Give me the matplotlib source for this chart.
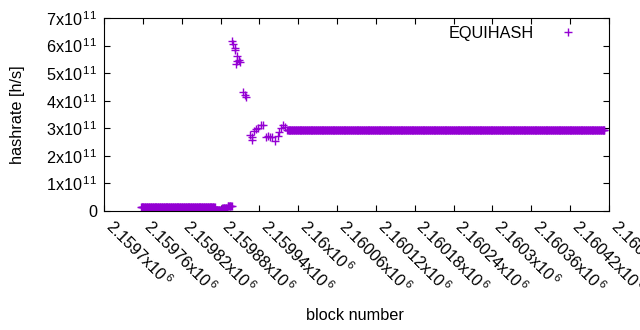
import numpy as np
import matplotlib
matplotlib.use("Agg")
import matplotlib.pyplot as plt

plt.rcParams["font.family"] = ["Liberation Sans", "DejaVu Sans"]
plt.rcParams["mathtext.fontset"] = "custom"
plt.rcParams["mathtext.rm"] = "Liberation Sans"
plt.rcParams["mathtext.it"] = "Liberation Sans"

FS = 11.7

# flat runs: (first block, last block, hashrate)
run_start = [2159757, 2159872, 2159883, 2159891, 2159983]
run_end = [2159871, 2159882, 2159890, 2159897, 2160473]
run_value = [1.35e10, 0.45e10, 1.0e10, 1.8e10, 2.93e11]

# individual points in the transition zone
pt_block = [2159898, 2159899, 2159902, 2159903, 2159904, 2159905, 2159906, 2159908,
            2159910, 2159914, 2159918, 2159920, 2159926, 2159928, 2159929, 2159932,
            2159934, 2159938, 2159943, 2159946, 2159950, 2159953, 2159956, 2159960,
            2159964, 2159969, 2159971, 2159973, 2159977, 2159980]
pt_value = [6.17e11, 6.06e11, 5.93e11, 5.84e11, 5.33e11, 5.62e11, 5.44e11, 5.48e11,
            5.42e11, 4.32e11, 4.21e11, 4.13e11, 2.76e11, 2.58e11, 2.68e11, 2.90e11,
            2.97e11, 3.00e11, 3.12e11, 3.12e11, 2.68e11, 2.72e11, 2.68e11, 2.68e11,
            2.54e11, 2.72e11, 2.87e11, 3.00e11, 3.12e11, 3.05e11]

xticks = [2159700 + 60 * i for i in range(14)]
xtick_labels = ["2.1597", "2.15976", "2.15982", "2.15988", "2.15994", "2.16", "2.16006",
                "2.16012", "2.16018", "2.16024", "2.1603", "2.16036", "2.16042", "2.16048"]
yticks = [0, 1e11, 2e11, 3e11, 4e11, 5e11, 6e11, 7e11]

blocks = []
values = []
for s, e, v in zip(run_start[:-1], run_end[:-1], run_value[:-1]):
    blocks += list(range(s, e + 1))
    values += [v] * (e - s + 1)
blocks += pt_block
values += pt_value
s, e, v = run_start[-1], run_end[-1], run_value[-1]
blocks += list(range(s, e + 1))
values += [v] * (e - s + 1)

fig = plt.figure(figsize=(6.4, 3.3), dpi=100)
ax = fig.add_axes([104 / 640, 1 - 211 / 330, 505 / 640, 193 / 330])
ax.plot(blocks, values, ls="none", marker="+", ms=5.5, mew=1.0, color="#9400d3",
        label="EQUIHASH")

ax.set_xlim(2159700, 2160480)
ax.set_ylim(0, 7e11)
ax.set_xticks(xticks)
ax.set_xticklabels([t + r"x10$^{\,6}$" for t in xtick_labels], rotation=-45,
                   ha="left", va="baseline", rotation_mode="anchor", fontsize=FS)
ax.set_yticks(yticks)
ax.set_yticklabels(["0"] + [f"{i}x10$^{{\\,11}}$" for i in range(1, 8)], fontsize=FS)
ax.tick_params(direction="in", top=True, right=True, length=4, width=0.8, pad=5)
ax.tick_params(axis="x", pad=12)
for sp in ax.spines.values():
    sp.set_linewidth(0.8)

ax.set_xlabel("block number", fontsize=FS)
ax.set_ylabel("hashrate [h/s]", fontsize=FS)
ax.xaxis.set_label_coords(0.496, -0.5)
ax.yaxis.set_label_coords(-0.157, 0.5)

ax.legend(loc="upper right", frameon=False, markerfirst=False, fontsize=FS,
          bbox_to_anchor=(0.967, 1.036), handletextpad=1.5, handlelength=1.2)

fig.savefig("out.png", dpi=100)
